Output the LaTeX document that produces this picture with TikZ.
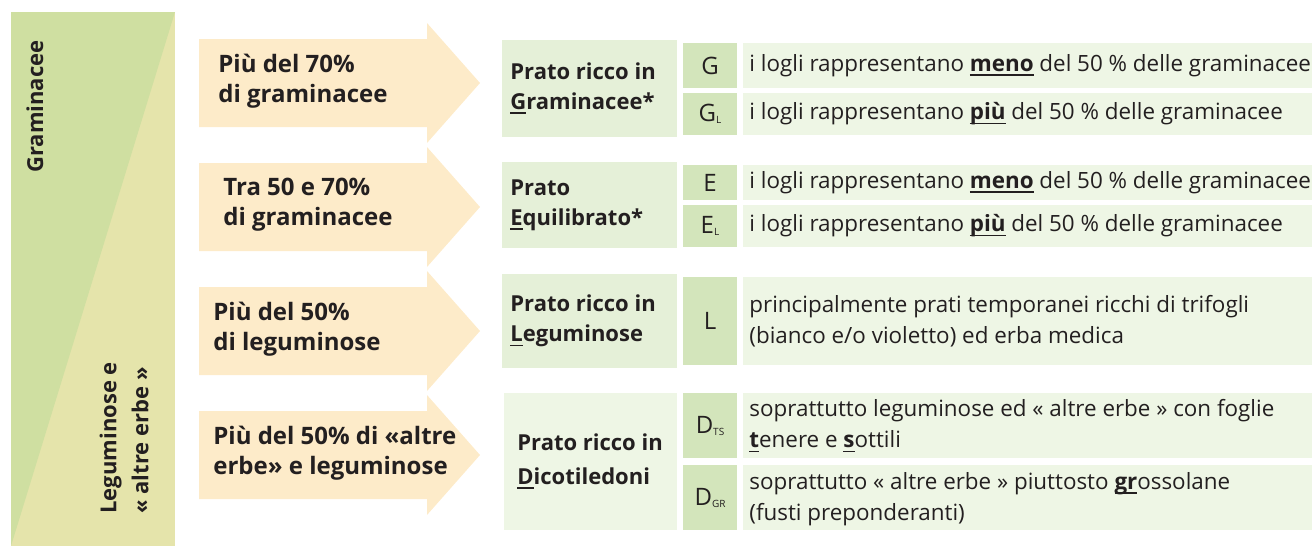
\documentclass[tikz,border=0pt]{standalone}
\usepackage{fontspec}
\setmainfont{Open Sans}
\definecolor{scuro}{HTML}{231F20}
\definecolor{verdeband}{HTML}{CFDFA1}
\definecolor{gialloband}{HTML}{E5E4AB}
\definecolor{arancio}{HTML}{FDEBC9}
\definecolor{pratoverde}{HTML}{E5F0D8}
\definecolor{codiceverde}{HTML}{D3E5BB}
\definecolor{descverde}{HTML}{EEF6E5}
\newsavebox\sottobox
\newcommand{\sottol}[1]{\sbox\sottobox{#1}\rlap{\rule[-2.2pt]{\wd\sottobox}{0.7pt}}#1}
\newcommand{\pedice}[1]{\raisebox{-1pt}{\fontsize{5}{6}\selectfont #1}}
\tikzset{
  fascia/.style={rotate=90,font=\fontsize{11}{16}\selectfont\bfseries},
  testofreccia/.style={anchor=west,align=left,font=\fontsize{12}{15}\selectfont\bfseries},
  testoprato/.style={anchor=west,align=left,font=\fontsize{11}{15}\selectfont\bfseries},
  codice/.style={font=\fontsize{12}{13}\selectfont},
  descr/.style={anchor=west,align=left,font=\fontsize{11.2}{15.5}\selectfont}
}
\begin{document}
\begin{tikzpicture}[x=0.5pt,y=-0.5pt,every node/.style={text=scuro,inner sep=0pt}]
\useasboundingbox (0,0) rectangle (1312,546);
% fascia a sinistra
\fill[gialloband] (11,12) rectangle (175,546);
\fill[verdeband] (11,12) -- (175,12) -- (11,546) -- cycle;
\node[fascia,anchor=east] (gram) at (35,40) {Graminacee};
\node[fascia,anchor=west,align=left] (legum) at (124,514) {Leguminose e\\« altre erbe »};
% frecce
\foreach \yc/\xt/\testo [count=\i] in {83/218/{Più del 70\%\\di graminacee},
    207/223/{Tra 50 e 70\%\\di graminacee},
    331/213/{Più del 50\%\\di leguminose},
    455/213/{Più del 50\% di «altre\\erbe» e leguminose}}{
  \fill[arancio] (199,\yc-44) -- (427,\yc-44) -- (427,\yc-60) -- (480,\yc)
    -- (427,\yc+60) -- (427,\yc+44) -- (199,\yc+44) -- cycle;
  \node[testofreccia] (freccia\i) at (\xt,\yc-2) {\testo};
}
% caselle dei prati
\fill[pratoverde] (502,40) rectangle (677,137);
\fill[pratoverde] (502,162) rectangle (677,248);
\fill[pratoverde] (502,274) rectangle (677,368);
\fill[descverde] (504,393) rectangle (677,530);
\node[testoprato] (pratoG) at (510,88) {Prato ricco in\\\sottol{G}raminacee*};
\node[testoprato] (pratoE) at (510,205) {Prato\\\sottol{E}quilibrato*};
\node[testoprato] (pratoL) at (510,321) {Prato ricco in\\\sottol{L}eguminose};
\node[testoprato,font=\fontsize{11}{17}\selectfont\bfseries] (pratoD) at (517,461) {Prato ricco in\\\sottol{D}icotiledoni};
% codici e descrizioni
\foreach \ya/\yb/\cod/\nome in {43/88/G/G, 93/135/G\pedice{L}/GL, 165/200/E/E, 205/247/E\pedice{L}/EL,
    277/365/L/L, 393/458/D\pedice{TS}/DTS, 465/530/D\pedice{GR}/DGR}{
  \fill[codiceverde] (683,\ya) rectangle (737,\yb);
  \fill[descverde] (743,\ya) rectangle (1312,\yb);
  \node[codice] (cod\nome) at (710,{(\ya+\yb)/2}) {\cod};
}
\node[descr] (descG) at (749,65.5) {i logli rappresentano \sottol{\textbf{meno}} del 50 \% delle graminacee};
\node[descr] (descGL) at (749,114) {i logli rappresentano \sottol{\textbf{più}} del 50 \% delle graminacee};
\node[descr] (descE) at (749,182.5) {i logli rappresentano \sottol{\textbf{meno}} del 50 \% delle graminacee};
\node[descr] (descEL) at (749,226) {i logli rappresentano \sottol{\textbf{più}} del 50 \% delle graminacee};
\node[descr] (descL) at (749,321) {principalmente prati temporanei ricchi di trifogli\\(bianco e/o violetto) ed erba medica};
\node[descr] (descDTS) at (749,426) {soprattutto leguminose ed « altre erbe » con foglie\\\sottol{\textbf{t}}enere e \sottol{\textbf{s}}ottili};
\node[descr] (descDGR) at (749,499) {soprattutto « altre erbe » piuttosto \sottol{\textbf{gr}}ossolane\\(fusti preponderanti)};
\end{tikzpicture}
\end{document}
